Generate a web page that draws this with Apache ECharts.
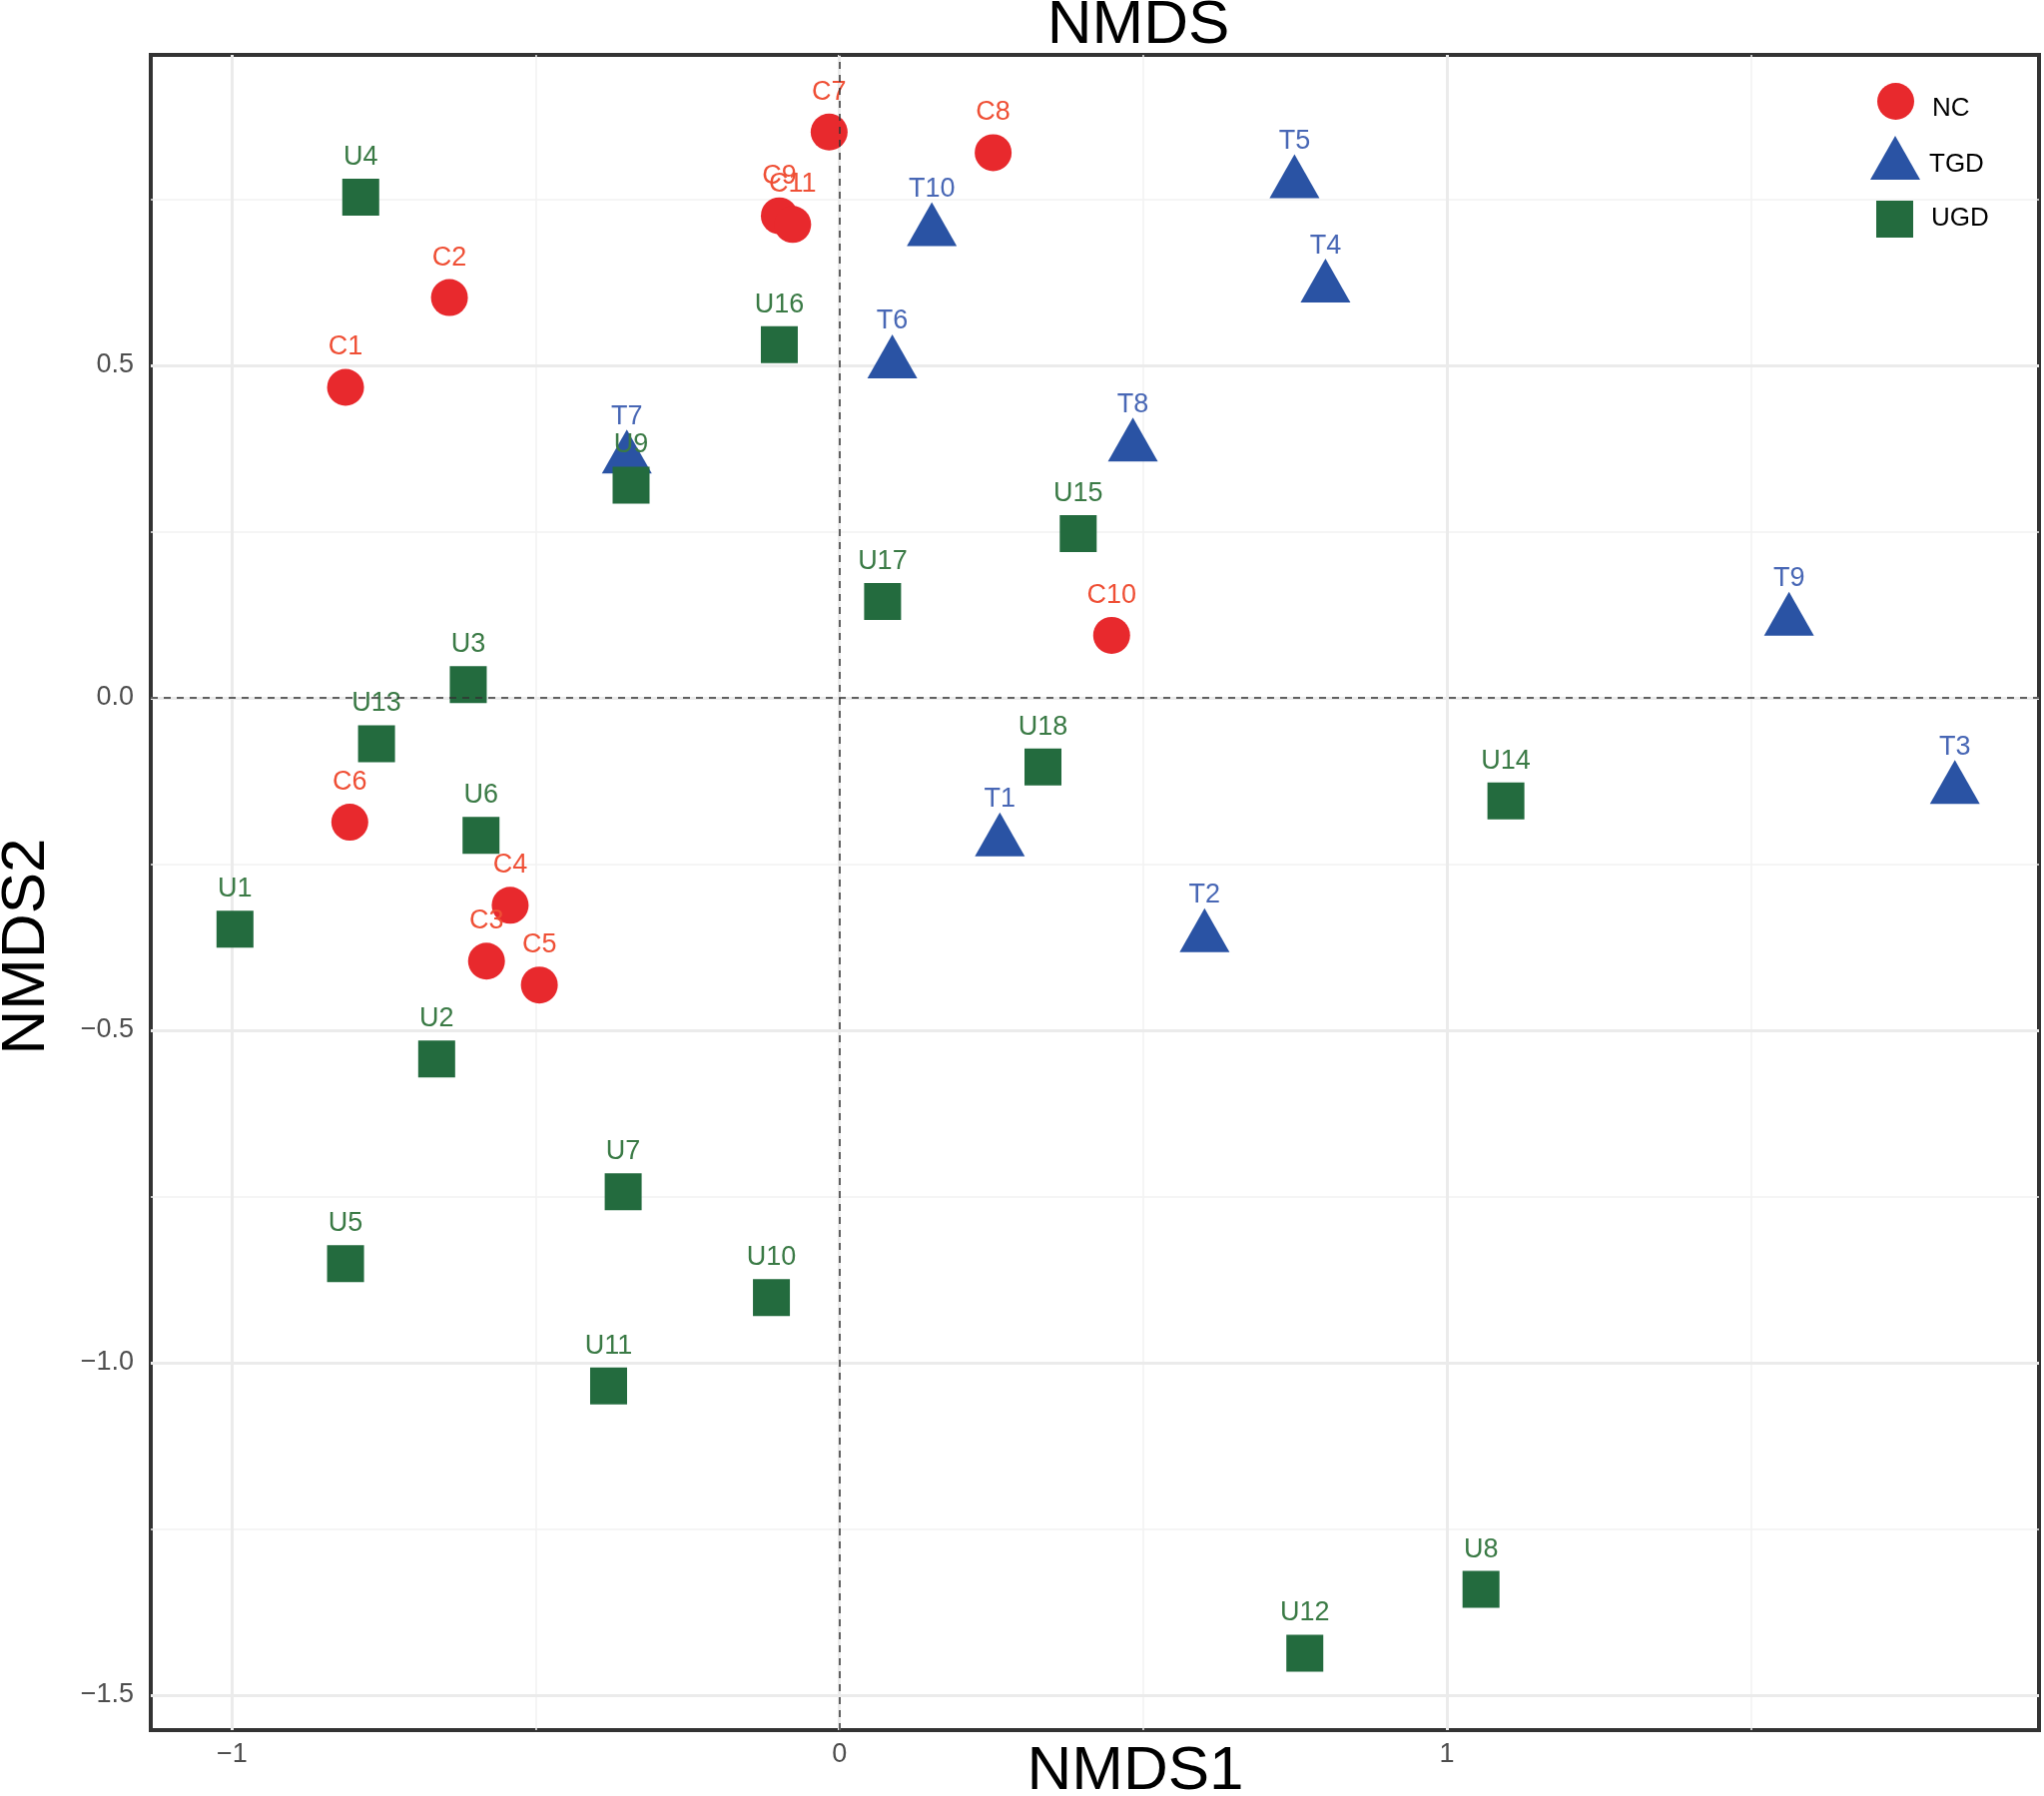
<!DOCTYPE html>
<html>
<head>
<meta charset="utf-8">
<title>NMDS</title>
<script src="https://cdn.jsdelivr.net/npm/echarts@6/dist/echarts.min.js"></script>
<style>
  html, body { margin: 0; padding: 0; background: #fff; }
  #chart { width: 2047px; height: 1799px; }
</style>
</head>
<body>
<div id="chart"></div>
<script>
// sample scores (NMDS1, NMDS2)
var ncNames = ['C1', 'C2', 'C3', 'C4', 'C5', 'C6', 'C7', 'C8', 'C9', 'C10', 'C11'];
var ncX = [-0.813, -0.642, -0.581, -0.542, -0.494, -0.806, -0.017, 0.253, -0.099, 0.448, -0.077];
var ncY = [0.467, 0.602, -0.396, -0.312, -0.432, -0.187, 0.851, 0.820, 0.725, 0.094, 0.712];

var tgdNames = ['T1', 'T2', 'T3', 'T4', 'T5', 'T6', 'T7', 'T8', 'T9', 'T10'];
var tgdX = [0.264, 0.601, 1.836, 0.800, 0.749, 0.087, -0.350, 0.483, 1.563, 0.152];
var tgdY = [-0.216, -0.360, -0.137, 0.617, 0.774, 0.503, 0.360, 0.378, 0.116, 0.702];

var ugdNames = ['U1', 'U2', 'U3', 'U4', 'U5', 'U6', 'U7', 'U8', 'U9', 'U10', 'U11', 'U12', 'U13', 'U14', 'U15', 'U16', 'U17', 'U18'];
var ugdX = [-0.995, -0.663, -0.611, -0.788, -0.813, -0.590, -0.356, 1.056, -0.343, -0.112, -0.380, 0.766, -0.762, 1.097, 0.393, -0.099, 0.071, 0.335];
var ugdY = [-0.348, -0.543, 0.020, 0.753, -0.851, -0.207, -0.743, -1.341, 0.320, -0.902, -1.035, -1.437, -0.069, -0.155, 0.247, 0.531, 0.145, -0.104];

var groups = ['NC', 'TGD', 'UGD'];

var xTicks = [-1, 0, 1];
var yTicks = [-1.5, -1, -0.5, 0, 0.5];
var xMinor = [-0.5, 0.5, 1.5];
var yMinor = [-1.25, -0.75, -0.25, 0.25, 0.75];

var FONT = 'Liberation Sans, Arial, Helvetica, sans-serif';

function zip(names, xs, ys) {
  var out = [];
  for (var i = 0; i < names.length; i++) out.push([xs[i], ys[i], names[i]]);
  return out;
}
function minus(s) { return String(s).replace('-', '\u2212'); }

var chart = echarts.init(document.getElementById('chart'));

var gridLines = [];
xMinor.forEach(function (v) { gridLines.push({ xAxis: v, lineStyle: { color: '#f2f2f2', width: 1.5, type: 'solid' } }); });
yMinor.forEach(function (v) { gridLines.push({ yAxis: v, lineStyle: { color: '#f2f2f2', width: 1.5, type: 'solid' } }); });
xTicks.forEach(function (v) { gridLines.push({ xAxis: v, lineStyle: { color: '#ebebeb', width: 3, type: 'solid' } }); });
yTicks.forEach(function (v) { gridLines.push({ yAxis: v, lineStyle: { color: '#ebebeb', width: 3, type: 'solid' } }); });

function pointLabel(color, dy) {
  return {
    show: true,
    position: 'inside',
    offset: [0, dy],
    formatter: function (p) { return p.data[2]; },
    color: color,
    fontFamily: FONT,
    fontSize: 27
  };
}

function legendText(name, x, y) {
  return { type: 'text', x: x, y: y, style: { text: name, font: '26px ' + FONT, fill: '#000', textAlign: 'left', textVerticalAlign: 'middle' } };
}

var option = {
  animation: false,
  backgroundColor: '#fff',
  grid: {
    left: 151, right: 5, top: 55, bottom: 66,
    show: true,
    borderColor: '#333333',
    borderWidth: 4,
    backgroundColor: '#fff'
  },
  xAxis: {
    type: 'value',
    min: -1.1336,
    max: 1.9745,
    axisLine: { show: false },
    splitLine: { show: false },
    axisTick: { show: true, customValues: xTicks, length: 9, lineStyle: { color: '#333333', width: 3 } },
    axisLabel: {
      customValues: xTicks,
      formatter: function (v) { return minus(v); },
      margin: 11,
      color: '#4d4d4d',
      fontFamily: FONT,
      fontSize: 27
    }
  },
  yAxis: {
    type: 'value',
    min: -1.5526,
    max: 0.967,
    axisLine: { show: false },
    splitLine: { show: false },
    axisTick: { show: true, customValues: yTicks, length: 9, lineStyle: { color: '#333333', width: 3 } },
    axisLabel: {
      customValues: yTicks,
      formatter: function (v) { return minus(v.toFixed(1)); },
      margin: 17,
      color: '#4d4d4d',
      fontFamily: FONT,
      fontSize: 27
    }
  },
  // legend keys only; their labels are placed as text below
  legend: [
    {
      data: [{ name: groups[0], icon: 'circle' }],
      left: 1880, top: 83, padding: 0,
      itemWidth: 37, itemHeight: 37,
      selectedMode: false,
      formatter: function () { return ''; }
    },
    {
      data: [{ name: groups[1], icon: 'triangle' }],
      left: 1873, top: 136, padding: 0,
      itemWidth: 50, itemHeight: 44,
      selectedMode: false,
      formatter: function () { return ''; }
    },
    {
      data: [{ name: groups[2], icon: 'rect' }],
      left: 1879, top: 201, padding: 0,
      itemWidth: 37, itemHeight: 37,
      selectedMode: false,
      formatter: function () { return ''; }
    }
  ],
  graphic: [
    { type: 'text', x: 1140, y: 26, style: { text: 'NMDS', font: '62px ' + FONT, fill: '#000', textAlign: 'center', textVerticalAlign: 'middle' } },
    { type: 'text', x: 1137, y: 1775, style: { text: 'NMDS1', font: '62px ' + FONT, fill: '#000', textAlign: 'center', textVerticalAlign: 'middle' } },
    { type: 'text', x: 27, y: 948, rotation: Math.PI / 2, style: { text: 'NMDS2', font: '62px ' + FONT, fill: '#000', textAlign: 'center', textVerticalAlign: 'middle' } },
    legendText(groups[0], 1935, 109),
    legendText(groups[1], 1932, 165),
    legendText(groups[2], 1934, 219)
  ],
  series: [
    {
      name: 'gridlines',
      type: 'scatter',
      data: [],
      silent: true,
      z: 1,
      markLine: {
        silent: true,
        z: 1,
        symbol: ['none', 'none'],
        label: { show: false },
        emphasis: { disabled: true },
        data: gridLines
      }
    },
    {
      name: groups[0],
      type: 'scatter',
      z: 3,
      symbol: 'circle',
      symbolSize: 37,
      itemStyle: { color: '#e8292d', opacity: 1 },
      label: pointLabel('#ef4f35', -40),
      emphasis: { disabled: true },
      data: zip(ncNames, ncX, ncY)
    },
    {
      name: groups[1],
      type: 'scatter',
      z: 3,
      symbol: 'triangle',
      symbolSize: [50, 44],
      symbolOffset: [0, -7],
      itemStyle: { color: '#2a53a4', opacity: 1 },
      label: pointLabel('#4867b5', -35),
      emphasis: { disabled: true },
      data: zip(tgdNames, tgdX, tgdY)
    },
    {
      name: groups[2],
      type: 'scatter',
      z: 3,
      symbol: 'rect',
      symbolSize: 37,
      itemStyle: { color: '#236b3e', opacity: 1 },
      label: pointLabel('#3a7a45', -40),
      emphasis: { disabled: true },
      data: zip(ugdNames, ugdX, ugdY)
    },
    {
      name: 'zerolines',
      type: 'scatter',
      data: [],
      silent: true,
      z: 10,
      markLine: {
        silent: true,
        z: 10,
        symbol: ['none', 'none'],
        label: { show: false },
        emphasis: { disabled: true },
        lineStyle: { color: '#333333', width: 1.5, type: [7, 6] },
        data: [{ xAxis: 0 }, { yAxis: 0 }]
      }
    }
  ]
};

chart.setOption(option);
</script>
</body>
</html>
